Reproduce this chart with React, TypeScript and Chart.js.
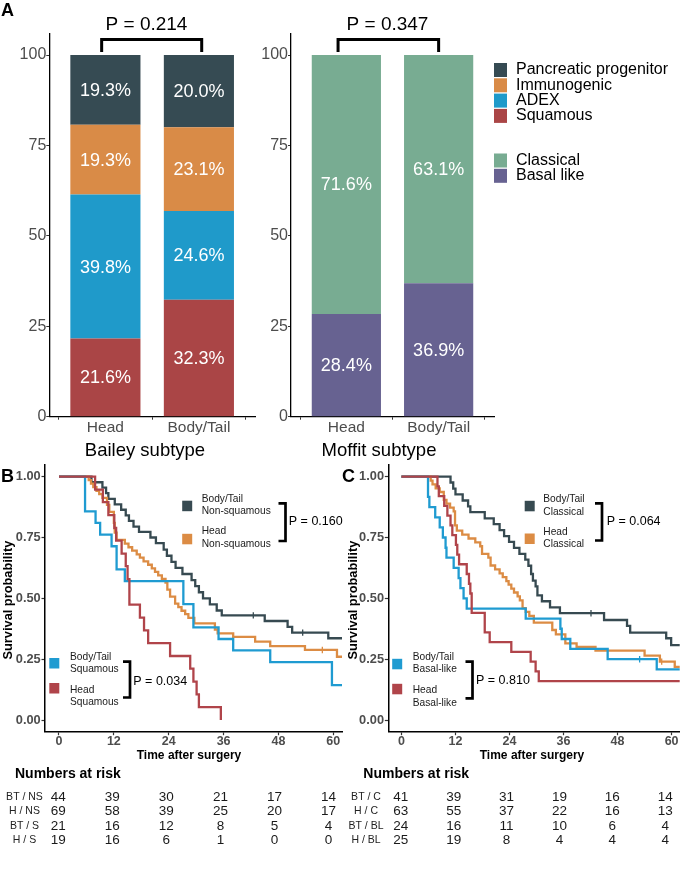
import React, { useEffect, useRef } from "react";
import { Chart, registerables } from "chart.js";
Chart.register(...registerables);

const FONT = '"Liberation Sans", Arial, Helvetica, sans-serif';
const PAGE_W = 685;
const PAGE_H = 873;

// ---------------- Panel A data ----------------
const barCategories = ["Head", "Body/Tail"];
const barTicks = [0, 25, 50, 75, 100];
const baileyNames = ["Squamous", "ADEX", "Immunogenic", "Pancreatic progenitor"];
const baileyColors = ["#AA4546", "#1F9ACA", "#D98B47", "#364B53"];
const baileyHead = [21.6, 39.8, 19.3, 19.3];
const baileyBodyTail = [32.3, 24.6, 23.1, 20.0];
const moffitNames = ["Basal like", "Classical"];
const moffitColors = ["#676291", "#78AC92"];
const moffitHead = [28.4, 71.6];
const moffitBodyTail = [36.9, 63.1];
const baileyPValue = "P = 0.214";
const moffitPValue = "P = 0.347";

// ---------------- Panel B/C data ----------------
const timeTicks = [0, 12, 24, 36, 48, 60];
const survTicks = [0, 0.25, 0.5, 0.75, 1];
const KM_DARK = "#374A51";
const KM_ORANGE = "#DC8C44";
const KM_BLUE = "#1F9BD1";
const KM_RED = "#B0444A";

// B: Body/Tail non-squamous
const bTimesBTNS = [0, 7.1, 9.5, 10.3, 10.8, 12.2, 13.6, 14.6, 15.3, 16.3, 17.5, 20.0, 21.2, 22.9, 23.6, 24.6, 25.5, 27.0, 29.0, 29.8, 30.6, 31.5, 33.0, 34.5, 35.6, 45.0, 50.0, 51.0, 58.9, 62];
const bSurvBTNS = [1, 0.977, 0.955, 0.932, 0.909, 0.886, 0.864, 0.841, 0.818, 0.795, 0.773, 0.75, 0.727, 0.70, 0.675, 0.65, 0.625, 0.60, 0.575, 0.55, 0.525, 0.50, 0.475, 0.45, 0.43, 0.407, 0.383, 0.359, 0.336, 0.336];
const bCensorBTNS = [42.5, 53.3];
// B: Head non-squamous
const bTimesHNS = [0, 6.5, 7.0, 7.5, 8.2, 8.8, 9.5, 10.5, 11.0, 12.0, 12.2, 12.6, 14.4, 15.2, 16.0, 17.0, 17.7, 18.5, 19.5, 20.3, 21.0, 21.7, 22.5, 23.3, 23.7, 24.3, 25.4, 26.1, 26.8, 27.6, 28.3, 29.6, 34.1, 34.7, 38.1, 42.9, 46.2, 53.8, 60.8, 62];
const bSurvHNS = [1, 0.986, 0.971, 0.957, 0.942, 0.928, 0.913, 0.884, 0.855, 0.81, 0.77, 0.74, 0.725, 0.71, 0.696, 0.681, 0.667, 0.652, 0.638, 0.623, 0.609, 0.594, 0.58, 0.565, 0.536, 0.507, 0.478, 0.464, 0.449, 0.435, 0.42, 0.397, 0.372, 0.356, 0.342, 0.322, 0.304, 0.288, 0.26, 0.26];
const bCensorHNS = [57.6];
// B: Body/Tail squamous
const bTimesBTS = [0, 5.7, 8.0, 9.0, 11.5, 12.6, 14.4, 27.2, 29.4, 34.9, 38.1, 46.2, 59.7, 62];
const bSurvBTS = [1, 0.857, 0.81, 0.762, 0.714, 0.619, 0.571, 0.476, 0.381, 0.333, 0.286, 0.238, 0.143, 0.143];
const bCensorBTS: number[] = [];
// B: Head squamous
const bTimesHS = [0, 7.9, 9.6, 10.8, 12.1, 12.5, 13.7, 14.6, 15.0, 15.4, 17.7, 18.6, 19.5, 24.3, 28.7, 29.4, 30.1, 30.6, 35.4];
const bSurvHS = [1, 0.947, 0.895, 0.842, 0.789, 0.737, 0.684, 0.632, 0.579, 0.474, 0.421, 0.368, 0.316, 0.263, 0.211, 0.158, 0.105, 0.053, 0];
const bCensorHS: number[] = [];

// C: Body/Tail classical
const cTimesBTC = [0, 10.9, 11.5, 12.0, 13.6, 14.8, 15.3, 18.5, 20.5, 21.8, 22.8, 23.9, 25.0, 26.2, 27.5, 28.2, 28.8, 29.2, 29.8, 30.2, 31.2, 33.0, 35.2, 45.0, 50.1, 50.8, 58.8, 59.9, 62];
const cSurvBTC = [1, 0.976, 0.951, 0.927, 0.902, 0.878, 0.854, 0.829, 0.805, 0.78, 0.756, 0.732, 0.707, 0.683, 0.659, 0.634, 0.60, 0.573, 0.549, 0.512, 0.488, 0.463, 0.439, 0.411, 0.387, 0.359, 0.336, 0.308, 0.308];
const cCensorBTC = [42.1];
// C: Head classical
const cTimesHC = [0, 6.5, 6.9, 7.6, 8.5, 9.4, 10.0, 10.8, 11.6, 11.9, 12.3, 13.5, 14.9, 16.4, 17.5, 17.9, 19.3, 19.8, 20.8, 21.8, 22.5, 23.3, 23.8, 24.4, 25.0, 25.8, 26.3, 26.9, 27.6, 28.4, 29.4, 33.5, 34.3, 36.4, 38.9, 43.1, 54.0, 57.4, 60.7, 62];
const cSurvHC = [1, 0.984, 0.968, 0.952, 0.937, 0.905, 0.889, 0.873, 0.857, 0.80, 0.778, 0.762, 0.746, 0.73, 0.714, 0.683, 0.667, 0.635, 0.619, 0.603, 0.587, 0.571, 0.556, 0.54, 0.524, 0.508, 0.492, 0.46, 0.444, 0.428, 0.40, 0.37, 0.352, 0.315, 0.30, 0.285, 0.265, 0.24, 0.218, 0.218];
const cCensorHC = [57.8];
// C: Body/Tail basal-like
const cTimesBTBL = [0, 5.9, 6.2, 7.5, 8.5, 9.2, 9.8, 10.0, 11.6, 12.7, 13.1, 13.8, 14.5, 27.6, 35.3, 35.6, 37.5, 45.8, 56.7, 62];
const cSurvBTBL = [1, 0.917, 0.875, 0.833, 0.792, 0.75, 0.708, 0.667, 0.625, 0.583, 0.542, 0.50, 0.458, 0.417, 0.375, 0.333, 0.292, 0.25, 0.208, 0.208];
const cCensorBTBL = [52.9];
// C: Head basal-like
const cTimesHBL = [0, 8.0, 8.3, 9.5, 10.2, 10.9, 11.3, 12.1, 12.4, 12.8, 14.5, 15.0, 15.3, 15.6, 18.5, 19.6, 24.4, 28.7, 29.8, 30.5, 62];
const cSurvHBL = [1, 0.96, 0.92, 0.88, 0.84, 0.80, 0.76, 0.72, 0.68, 0.64, 0.60, 0.56, 0.52, 0.44, 0.36, 0.32, 0.28, 0.24, 0.20, 0.16, 0.16];
const cCensorHBL: number[] = [];

// Numbers at risk
const riskRowsB = ["BT / NS", "H / NS", "BT / S", "H / S"];
const riskB_BTNS = [44, 39, 30, 21, 17, 14];
const riskB_HNS = [69, 58, 39, 25, 20, 17];
const riskB_BTS = [21, 16, 12, 8, 5, 4];
const riskB_HS = [19, 16, 6, 1, 0, 0];
const riskRowsC = ["BT / C", "H / C", "BT / BL", "H / BL"];
const riskC_BTC = [41, 39, 31, 19, 16, 14];
const riskC_HC = [63, 55, 37, 22, 16, 13];
const riskC_BTBL = [24, 16, 11, 10, 6, 4];
const riskC_HBL = [25, 19, 8, 4, 4, 4];

// ---------------- helpers ----------------
function survAt(times: number[], surv: number[], t: number) {
  let s = surv[0];
  for (let i = 0; i < times.length; i++) if (times[i] <= t) s = surv[i];
  return s;
}

function txt(ctx: CanvasRenderingContext2D, s: string, x: number, y: number, font: string, color: string, align: CanvasTextAlign = "left") {
  ctx.save();
  ctx.font = font;
  ctx.fillStyle = color;
  ctx.textAlign = align;
  ctx.textBaseline = "middle";
  ctx.fillText(s, x, y);
  ctx.restore();
}

function baseOptions(area: { l: number; r: number; t: number; b: number }, yW: number, xH: number) {
  return {
    responsive: false,
    animation: false as const,
    devicePixelRatio: 1,
    events: [] as any[],
    layout: {
      padding: {
        left: area.l - yW,
        right: PAGE_W - area.r,
        top: area.t,
        bottom: PAGE_H - area.b - xH,
      },
    },
    plugins: { legend: { display: false }, tooltip: { enabled: false } },
  };
}

// ---------------- bar charts ----------------
type BarSpec = {
  names: string[];
  colors: string[];
  head: number[];
  body: number[];
  area: { l: number; r: number; t: number; b: number };
  pText: string;
  bracket: [number, number];
  pCenterX: number;
  title: string;
  titleX: number;
  panelLabel?: string;
  legendGroups?: { names: string[]; colors: string[]; y0: number }[];
};

function barConfig(spec: BarSpec): any {
  const datasets = spec.names.map((name, i) => ({
    label: name,
    data: barCategories.map((_, j) => ({ x: j + 1, y: (j === 0 ? spec.head : spec.body)[i] })),
    backgroundColor: spec.colors[i],
    borderWidth: 0,
    barPercentage: 0.75,
    categoryPercentage: 1,
  }));
  const labelPlugin = {
    id: "barAnno",
    afterDatasetsDraw(chart: any) {
      const ctx: CanvasRenderingContext2D = chart.ctx;
      chart.data.datasets.forEach((ds: any, i: number) => {
        const meta = chart.getDatasetMeta(i);
        meta.data.forEach((el: any, j: number) => {
          const v = ds.data[j].y;
          const p = el.getProps(["x", "y", "base"], true);
          txt(ctx, v.toFixed(1) + "%", p.x, (p.y + p.base) / 2 + 1, `18px ${FONT}`, "#FFFFFF", "center");
        });
      });
    },
    afterDraw(chart: any) {
      const ctx: CanvasRenderingContext2D = chart.ctx;
      const xs = chart.scales.x;
      const ys = chart.scales.y;
      // significance bracket
      const xl = xs.getPixelForValue(spec.bracket[0]);
      const xr = xs.getPixelForValue(spec.bracket[1]);
      const yTop = ys.getPixelForValue(104.3);
      const yLeg = ys.getPixelForValue(100.8);
      ctx.save();
      ctx.strokeStyle = "#000";
      ctx.lineWidth = 3;
      ctx.lineJoin = "miter";
      ctx.beginPath();
      ctx.moveTo(xl, yLeg);
      ctx.lineTo(xl, yTop);
      ctx.lineTo(xr, yTop);
      ctx.lineTo(xr, yLeg);
      ctx.stroke();
      ctx.restore();
      txt(ctx, spec.pText, spec.pCenterX, 25, `19px ${FONT}`, "#000", "center");
      txt(ctx, spec.title, spec.titleX, 451, `18.5px ${FONT}`, "#000", "center");
      if (spec.panelLabel) txt(ctx, spec.panelLabel, 1, 11, `bold 18px ${FONT}`, "#000", "left");
      if (spec.legendGroups) {
        spec.legendGroups.forEach((g) => {
          g.names.forEach((n, k) => {
            const yc = g.y0 + k * 15.3;
            ctx.fillStyle = g.colors[k];
            ctx.fillRect(494, yc - 7, 13, 14);
            txt(ctx, n, 516, yc, `16px ${FONT}`, "#000", "left");
          });
        });
      }
    },
  };
  return {
    type: "bar",
    data: { datasets },
    options: {
      ...baseOptions(spec.area, 40, 30),
      scales: {
        x: {
          type: "linear",
          min: 0.4,
          max: 2.6,
          stacked: true,
          offset: false,
          afterBuildTicks: (s: any) => {
            s.ticks = barCategories.map((_, i) => ({ value: i + 1 }));
          },
          afterFit: (s: any) => {
            s.height = 30;
          },
          ticks: {
            callback: (v: any) => barCategories[Math.round(v) - 1],
            font: { family: FONT, size: 15.5, lineHeight: 1 },
            color: "#4D4D4D",
            padding: 0,
            autoSkip: false,
            maxRotation: 0,
          },
          grid: { display: true, drawOnChartArea: false, drawTicks: true, tickLength: 3, tickColor: "#333", tickWidth: 1 },
          border: { display: true, color: "#000", width: 1.3 },
        },
        y: {
          min: 0,
          max: 106,
          stacked: true,
          afterBuildTicks: (s: any) => {
            s.ticks = barTicks.map((v) => ({ value: v }));
          },
          afterFit: (s: any) => {
            s.width = 40;
          },
          ticks: {
            font: { family: FONT, size: 16, lineHeight: 1 },
            color: "#4D4D4D",
            padding: 0,
            autoSkip: false,
          },
          grid: { display: true, drawOnChartArea: false, drawTicks: true, tickLength: 3, tickColor: "#333", tickWidth: 1 },
          border: { display: true, color: "#000", width: 1.3 },
        },
      },
    },
    plugins: [labelPlugin],
  };
}

// ---------------- KM charts ----------------
type Curve = { times: number[]; surv: number[]; censor: number[]; color: string };
type LegendGroup = {
  curves: number[];
  labels: [string, string][];
  sqX: number;
  sqYs: number[];
  textX: number;
  textYs: number[];
  brX: number;
  brY1: number;
  brY2: number;
  pX: number;
  pY: number;
  p: string;
};
type KMSpec = {
  area: { l: number; r: number; t: number; b: number };
  xMin: number;
  xMax: number;
  curves: Curve[];
  panelLabel: string;
  labelX: number;
  yTitleX: number;
  xTitleX: number;
  legends: LegendGroup[];
  riskRows: string[];
  risk: number[][];
  riskTitleX: number;
  riskLabelX: number;
  riskSqueeze: number;
};

function kmConfig(spec: KMSpec): any {
  const datasets: any[] = [];
  spec.curves.forEach((c) => {
    if (c.censor.length)
      datasets.push({
        data: c.censor.map((t) => ({ x: t, y: survAt(c.times, c.surv, t) })),
        showLine: false,
        pointStyle: "line",
        pointRotation: 90,
        pointRadius: 3.2,
        pointBorderColor: c.color,
        pointBorderWidth: 1.3,
        borderColor: c.color,
      });
  });
  spec.curves.forEach((c) =>
    datasets.push({
      data: c.times.map((t, i) => ({ x: t, y: c.surv[i] })),
      borderColor: c.color,
      borderWidth: 2.3,
      stepped: "before",
      pointRadius: 0,
      fill: false,
      borderJoinStyle: "miter",
    })
  );
  const anno = {
    id: "kmAnno",
    afterDraw(chart: any) {
      const ctx: CanvasRenderingContext2D = chart.ctx;
      const xs = chart.scales.x;
      const top = chart.chartArea.top;
      const bottom = chart.chartArea.bottom;
      txt(ctx, spec.panelLabel, spec.labelX, 477.5, `bold 18px ${FONT}`, "#000", "left");
      // axis titles
      ctx.save();
      ctx.translate(spec.yTitleX, (top + bottom) / 2 + 2);
      ctx.rotate(-Math.PI / 2);
      txt(ctx, "Survival probability", 0, 0, `bold 12.8px ${FONT}`, "#000", "center");
      ctx.restore();
      txt(ctx, "Time after surgery", spec.xTitleX, 756, `bold 12px ${FONT}`, "#000", "center");
      // legends
      spec.legends.forEach((g) => {
        g.curves.forEach((ci, k) => {
          ctx.fillStyle = spec.curves[ci].color;
          ctx.fillRect(g.sqX - 5, g.sqYs[k] - 5, 10, 10.5);
          txt(ctx, g.labels[k][0], g.textX, g.textYs[k * 2], `10.2px ${FONT}`, "#1A1A1A", "left");
          txt(ctx, g.labels[k][1], g.textX, g.textYs[k * 2 + 1], `10.2px ${FONT}`, "#1A1A1A", "left");
        });
        ctx.save();
        ctx.strokeStyle = "#000";
        ctx.lineWidth = 2.7;
        ctx.lineJoin = "miter";
        ctx.beginPath();
        ctx.moveTo(g.brX - 7, g.brY1);
        ctx.lineTo(g.brX, g.brY1);
        ctx.lineTo(g.brX, g.brY2);
        ctx.lineTo(g.brX - 7, g.brY2);
        ctx.stroke();
        ctx.restore();
        txt(ctx, g.p, g.pX, g.pY, `12.5px ${FONT}`, "#000", "left");
      });
      // numbers at risk
      txt(ctx, "Numbers at risk", spec.riskTitleX, 774.5, `bold 14px ${FONT}`, "#000", "left");
      const x0 = xs.getPixelForValue(0) - 0.7;
      const slope = ((xs.getPixelForValue(60) - xs.getPixelForValue(0)) / 60) * spec.riskSqueeze;
      spec.riskRows.forEach((rl, r) => {
        const y = 797.3 + r * 14.25;
        txt(ctx, rl, spec.riskLabelX, y, `10.5px ${FONT}`, "#222", "center");
        spec.risk[r].forEach((n, k) => {
          txt(ctx, String(n), x0 + timeTicks[k] * slope, y, `13.5px ${FONT}`, "#1A1A1A", "center");
        });
      });
    },
  };
  return {
    type: "line",
    data: { datasets },
    options: {
      ...baseOptions(spec.area, 30, 20),
      scales: {
        x: {
          type: "linear",
          min: spec.xMin,
          max: spec.xMax,
          afterBuildTicks: (s: any) => {
            s.ticks = timeTicks.map((v) => ({ value: v }));
          },
          afterFit: (s: any) => {
            s.height = 20;
          },
          ticks: {
            font: { family: FONT, size: 12.5, weight: "bold", lineHeight: 1 },
            color: "#4D4D4D",
            padding: 0,
            autoSkip: false,
            maxRotation: 0,
          },
          grid: { display: true, drawOnChartArea: false, drawTicks: true, tickLength: 3.5, tickColor: "#333", tickWidth: 1.2 },
          border: { display: true, color: "#000", width: 1.5 },
        },
        y: {
          min: -0.048,
          max: 1.05,
          afterBuildTicks: (s: any) => {
            s.ticks = survTicks.map((v) => ({ value: v }));
          },
          afterFit: (s: any) => {
            s.width = 30;
          },
          ticks: {
            callback: (v: any) => Number(v).toFixed(2),
            font: { family: FONT, size: 12.8, weight: "bold", lineHeight: 1 },
            color: "#4D4D4D",
            padding: 0.8,
            autoSkip: false,
          },
          grid: { display: true, drawOnChartArea: false, drawTicks: true, tickLength: 3.5, tickColor: "#333", tickWidth: 1.2 },
          border: { display: true, color: "#000", width: 1.5 },
        },
      },
    },
    plugins: [anno],
  };
}

// ---------------- specs ----------------
const baileySpec: BarSpec = {
  names: baileyNames,
  colors: baileyColors,
  head: baileyHead,
  body: baileyBodyTail,
  area: { l: 49.3, r: 255, t: 33.3, b: 416.7 },
  pText: baileyPValue,
  bracket: [0.96, 2.03],
  pCenterX: 146.5,
  title: "Bailey subtype",
  titleX: 145,
  panelLabel: "A",
};

const moffitSpec: BarSpec = {
  names: moffitNames,
  colors: moffitColors,
  head: moffitHead,
  body: moffitBodyTail,
  area: { l: 291, r: 494, t: 33.3, b: 416.7 },
  pText: moffitPValue,
  bracket: [0.91, 2.0],
  pCenterX: 387.5,
  title: "Moffit subtype",
  titleX: 379,
  legendGroups: [
    { names: [...baileyNames].reverse(), colors: [...baileyColors].reverse(), y0: 70 },
    { names: [...moffitNames].reverse(), colors: [...moffitColors].reverse(), y0: 160.5 },
  ],
};

const kmBSpec: KMSpec = {
  area: { l: 45, r: 342, t: 464.5, b: 731.7 },
  xMin: -3.06,
  xMax: 61.9,
  curves: [
    { times: bTimesHS, surv: bSurvHS, censor: bCensorHS, color: KM_RED },
    { times: bTimesBTS, surv: bSurvBTS, censor: bCensorBTS, color: KM_BLUE },
    { times: bTimesHNS, surv: bSurvHNS, censor: bCensorHNS, color: KM_ORANGE },
    { times: bTimesBTNS, surv: bSurvBTNS, censor: bCensorBTNS, color: KM_DARK },
  ],
  panelLabel: "B",
  labelX: 1,
  yTitleX: 8.5,
  xTitleX: 189,
  legends: [
    {
      curves: [3, 2],
      labels: [["Body/Tail", "Non-squamous"], ["Head", "Non-squamous"]],
      sqX: 187.2,
      sqYs: [505.7, 538.8],
      textX: 201.7,
      textYs: [498.7, 511.5, 531.5, 544.2],
      brX: 285.5,
      brY1: 503.3,
      brY2: 541,
      pX: 288.8,
      pY: 521.5,
      p: "P = 0.160",
    },
    {
      curves: [1, 0],
      labels: [["Body/Tail", "Squamous"], ["Head", "Squamous"]],
      sqX: 54.3,
      sqYs: [663, 688],
      textX: 70,
      textYs: [656.7, 669.3, 690, 702.5],
      brX: 130,
      brY1: 661.7,
      brY2: 697.5,
      pX: 133.3,
      pY: 681.7,
      p: "P = 0.034",
    },
  ],
  riskRows: riskRowsB,
  risk: [riskB_BTNS, riskB_HNS, riskB_BTS, riskB_HS],
  riskTitleX: 15,
  riskLabelX: 24.5,
  riskSqueeze: 0.985,
};

const kmCSpec: KMSpec = {
  area: { l: 388.3, r: 685, t: 464.5, b: 731.7 },
  xMin: -2.92,
  xMax: 61.8,
  curves: [
    { times: cTimesHBL, surv: cSurvHBL, censor: cCensorHBL, color: KM_RED },
    { times: cTimesBTBL, surv: cSurvBTBL, censor: cCensorBTBL, color: KM_BLUE },
    { times: cTimesHC, surv: cSurvHC, censor: cCensorHC, color: KM_ORANGE },
    { times: cTimesBTC, surv: cSurvBTC, censor: cCensorBTC, color: KM_DARK },
  ],
  panelLabel: "C",
  labelX: 342,
  yTitleX: 353,
  xTitleX: 532,
  legends: [
    {
      curves: [3, 2],
      labels: [["Body/Tail", "Classical"], ["Head", "Classical"]],
      sqX: 529.7,
      sqYs: [505.8, 538.5],
      textX: 543.3,
      textYs: [499.3, 511.7, 531.7, 544.3],
      brX: 602,
      brY1: 503.3,
      brY2: 540.5,
      pX: 606.7,
      pY: 521.7,
      p: "P = 0.064",
    },
    {
      curves: [1, 0],
      labels: [["Body/Tail", "Basal-like"], ["Head", "Basal-like"]],
      sqX: 397.2,
      sqYs: [663.8, 688.8],
      textX: 412.7,
      textYs: [656.7, 669.3, 690, 702.7],
      brX: 472.5,
      brY1: 661.7,
      brY2: 698.3,
      pX: 476,
      pY: 680.7,
      p: "P = 0.810",
    },
  ],
  riskRows: riskRowsC,
  risk: [riskC_BTC, riskC_HC, riskC_BTBL, riskC_HBL],
  riskTitleX: 363.3,
  riskLabelX: 366,
  riskSqueeze: 0.979,
};

export default function App() {
  const r1 = useRef<HTMLCanvasElement>(null);
  const r2 = useRef<HTMLCanvasElement>(null);
  const r3 = useRef<HTMLCanvasElement>(null);
  const r4 = useRef<HTMLCanvasElement>(null);
  useEffect(() => {
    const charts: Chart[] = [];
    if (r1.current) charts.push(new Chart(r1.current, barConfig(baileySpec)));
    if (r2.current) charts.push(new Chart(r2.current, barConfig(moffitSpec)));
    if (r3.current) charts.push(new Chart(r3.current, kmConfig(kmBSpec)));
    if (r4.current) charts.push(new Chart(r4.current, kmConfig(kmCSpec)));
    return () => charts.forEach((c) => c.destroy());
  }, []);
  const cs: React.CSSProperties = { position: "absolute", left: 0, top: 0, width: PAGE_W, height: PAGE_H };
  return (
    <div style={{ position: "absolute", left: 0, top: 0, width: PAGE_W, height: PAGE_H, background: "#fff", overflow: "hidden" }}>
      <canvas ref={r1} width={PAGE_W} height={PAGE_H} style={cs} />
      <canvas ref={r2} width={PAGE_W} height={PAGE_H} style={cs} />
      <canvas ref={r3} width={PAGE_W} height={PAGE_H} style={cs} />
      <canvas ref={r4} width={PAGE_W} height={PAGE_H} style={cs} />
    </div>
  );
}
